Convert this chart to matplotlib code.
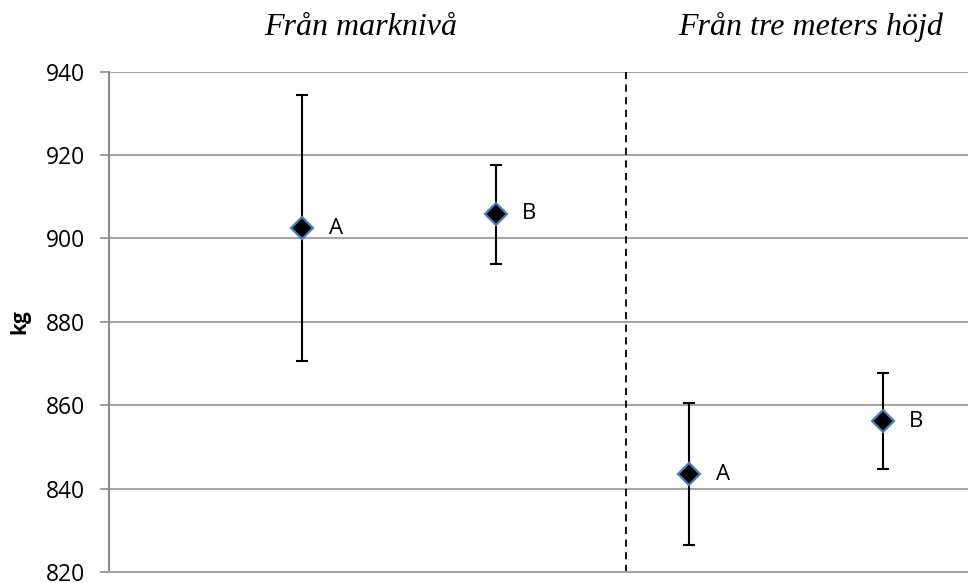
import matplotlib
matplotlib.use("Agg")
from matplotlib import pyplot as plt

# data
positions = [1, 2, 3, 4]
labels = ["A", "B", "A", "B"]
means = [902.5, 905.9, 843.4, 856.1]
upper = [934.5, 917.6, 860.5, 867.8]
lower = [870.7, 893.9, 826.5, 844.7]
group_titles = ["Från marknivå", "Från tre meters höjd"]
yticks = [820, 840, 860, 880, 900, 920, 940]

err_lo = [m - l for m, l in zip(means, lower)]
err_hi = [u - m for u, m in zip(upper, means)]

fig = plt.figure(figsize=(9.68, 5.83), dpi=100)
ax = fig.add_axes([0.1126, 0.019, 0.8874, 0.858])

ax.errorbar(positions, means, yerr=[err_lo, err_hi], fmt="none",
            ecolor="black", elinewidth=1.5, capsize=4.5, capthick=1.5, zorder=3)
ax.plot(positions, means, linestyle="none", marker="D", markersize=11.5,
        markerfacecolor="black", markeredgecolor="#4a7ebb", markeredgewidth=1.6,
        zorder=4)

for x, y, lab in zip(positions, means, labels):
    ax.annotate(lab, (x, y), xytext=(19, 0), textcoords="offset points",
                va="center", ha="left", fontsize=16, family="Open Sans")

ax.axvline(2.67, color="black", linestyle=(0, (4, 3)), linewidth=1.3, zorder=2)

ax.set_ylim(820, 940)
ax.set_xlim(0, 4.44)
ax.set_yticks(yticks)
ax.set_xticks([])
ax.yaxis.grid(True, color="#a6a6a6", linewidth=1.5)
ax.set_axisbelow(True)

for s in ["top", "right"]:
    ax.spines[s].set_visible(False)
ax.spines["left"].set_color("#8c8c8c")
ax.spines["bottom"].set_color("#a6a6a6")
ax.spines["left"].set_linewidth(1.5)
ax.spines["bottom"].set_linewidth(1.5)
ax.tick_params(axis="y", direction="out", length=6.5, width=1.2, color="#8c8c8c",
               labelsize=16.5, pad=11)
for t in ax.get_yticklabels():
    t.set_family("Open Sans")

ax.set_ylabel("kg", fontsize=15, fontweight="bold", family="Open Sans", labelpad=11)

title_x = [1.30, 3.625]
for tx, title in zip(title_x, group_titles):
    ax.text(tx, 1.073, title, transform=ax.get_xaxis_transform(), ha="center",
            va="baseline", fontsize=23, style="italic", family="Liberation Serif")

fig.savefig("out.png", dpi=100)
